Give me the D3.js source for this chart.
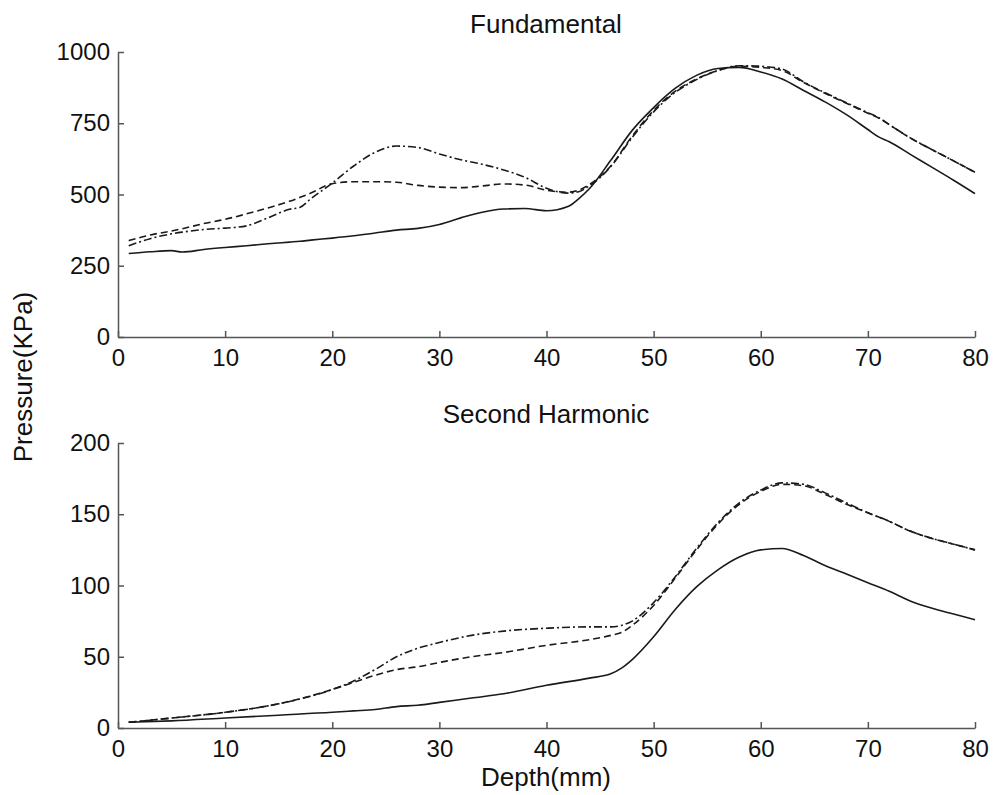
<!DOCTYPE html>
<html>
<head>
<meta charset="utf-8">
<script src="https://cdn.jsdelivr.net/npm/d3@7"></script>
<style>
  body { margin: 0; background: #fff; }
  svg text { font-family: "Liberation Sans", Arial, Helvetica, sans-serif; fill: #111; }
  .axis path, .axis line { stroke: #555; stroke-width: 1.5; }
  .axis text { font-size: 24px; }
  .title { font-size: 26px; text-anchor: middle; }
</style>
</head>
<body>
<svg id="canvas" width="993" height="795"></svg>
<script>
// depth positions (mm)
const depthTop = [1,3,5,6,8,10,12,14,16,17,18,20,22,24,26,28,30,32,34,36,38,40,42,43,44,46,48,50,52,54,56,58,60,62,64,66,68,70,71,72,74,76,78,80];
const fundSolid = [293,299,303,298,307,314,320,327,333,336,340,347,355,365,375,381,395,418,438,449,451,443,458,485,520,620,725,805,872,918,942,946,930,905,865,825,780,728,702,685,640,595,550,503];
const fundDash = [338,358,372,380,398,413,432,453,476,490,505,538,545,545,543,532,526,524,530,537,533,515,508,515,535,600,705,795,862,905,935,950,946,935,893,855,820,785,768,745,697,657,618,578];
const fundDashDot = [320,345,362,368,377,382,390,418,448,455,485,540,600,648,670,665,642,622,606,586,560,522,505,510,530,598,700,790,858,903,935,952,950,940,895,857,822,787,770,745,698,657,618,578];

const depthBottom = [1,5,10,15,20,22,24,26,28,30,33,36,40,44,46,47,48,50,52,54,56,58,60,62,64,66,68,70,72,74,76,78,80];
const harmSolid = [4,5,7,9,11,12,13,15,16,18,21,24,30,35,38,42,48,64,83,99,111,120,125,126,121,114,108,102,96,89,84,80,76];
const harmDash = [4,7,11,17,27,32,37,41,43,46,50,53,58,62,65,67,72,86,105,125,143,157,166,171,170,164,157,151,145,138,133,129,125];
const harmDashDot = [4,7,11,17,27,33,41,50,56,60,65,68,70,71,71,72,75,88,106,126,144,158,167,172,171,165,158,151,145,138,133,129,125];

const xTicks = [0,10,20,30,40,50,60,70,80];
const yTicksTop = [0,250,500,750,1000];
const yTicksBottom = [0,50,100,150,200];

const styles = {solid: null, dash: "7,4", dashdot: "8,3,2,3"};

let svg = d3.select("#canvas");

let x = d3.scaleLinear().domain([0,80]).range([118,975]);

function panel(top, bottom, maxY, yTicks, depth, series, title, titleY){
    let y = d3.scaleLinear().domain([0,maxY]).range([bottom, top]);

    //x axis with inward ticks
    svg.append("g")
        .attr("class","axis")
        .attr("transform","translate(0," + bottom + ")")
        .call(d3.axisBottom(x).tickValues(xTicks).tickSizeInner(-6).tickSizeOuter(0).tickPadding(12));

    //y axis, plain integers (no thousands comma)
    svg.append("g")
        .attr("class","axis")
        .attr("transform","translate(118,0)")
        .call(d3.axisLeft(y).tickValues(yTicks).tickFormat(d3.format("d")).tickSizeInner(-6).tickSizeOuter(0).tickPadding(8));

    let line = d3.line()
        .x((d,i) => x(depth[i]))
        .y(d => y(d))
        .curve(d3.curveMonotoneX);

    series.forEach(s => {
        svg.append("path")
            .attr("d", line(s.values))
            .attr("fill","none")
            .attr("stroke","#1a1a1a")
            .attr("stroke-width",1.6)
            .attr("stroke-dasharray", styles[s.style]);
    });

    svg.append("text")
        .attr("class","title")
        .attr("x", 546)
        .attr("y", titleY)
        .text(title);
}

panel(52, 337, 1000, yTicksTop, depthTop, [
    {values: fundSolid, style: "solid"},
    {values: fundDash, style: "dash"},
    {values: fundDashDot, style: "dashdot"}
], "Fundamental", 33);

panel(443, 728, 200, yTicksBottom, depthBottom, [
    {values: harmSolid, style: "solid"},
    {values: harmDash, style: "dash"},
    {values: harmDashDot, style: "dashdot"}
], "Second Harmonic", 423);

//axis titles
svg.append("text")
    .attr("class","title")
    .attr("x", 546)
    .attr("y", 786)
    .text("Depth(mm)");

svg.append("text")
    .attr("class","title")
    .attr("transform","translate(32,377) rotate(-90)")
    .text("Pressure(KPa)");
</script>
</body>
</html>
